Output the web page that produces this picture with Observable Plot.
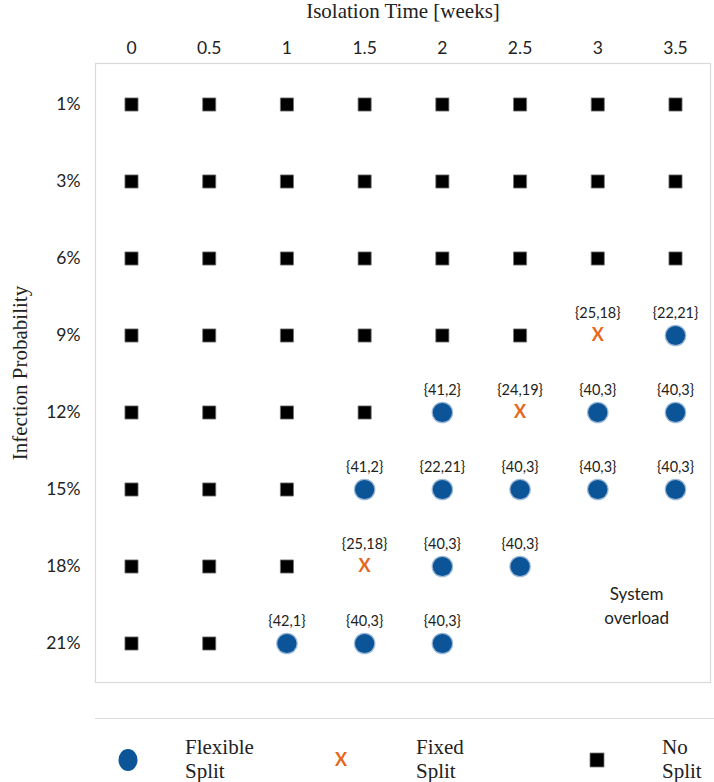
<!DOCTYPE html>
<html>
<head>
<meta charset="utf-8">
<script src="https://cdn.jsdelivr.net/npm/d3@7"></script>
<script src="https://cdn.jsdelivr.net/npm/@observablehq/plot@0.6"></script>
<style>
  html, body { margin: 0; padding: 0; background: #fff; }
  #wrap { position: relative; width: 714px; height: 782px; overflow: hidden; }
  #chart svg { display: block; }
  .leg { position: absolute; font-family: "Liberation Serif", serif; font-size: 21px; color: #222; line-height: 24px; }
  .legsym { position: absolute; }
</style>
</head>
<body>
<div id="wrap">
  <div id="chart"></div>
  <div style="position:absolute; left:95px; top:718px; width:619px; height:1px; background:#dcdcdc;"></div>
  <svg class="legsym" style="left:116px; top:747px;" width="24" height="26"><ellipse cx="12" cy="13" rx="9.5" ry="11" fill="#0b5497"/></svg>
  <div class="leg" style="left:185px; top:735px;">Flexible<br>Split</div>
  <div class="legsym" style="left:335px; top:748px; font-family:Lato, sans-serif; font-weight:bold; font-size:18px; color:#e8661a;">X</div>
  <div class="leg" style="left:416px; top:735px;">Fixed<br>Split</div>
  <svg class="legsym" style="left:589px; top:752px;" width="16" height="16"><rect x="1" y="1" width="14" height="14" fill="#000" stroke="#777" stroke-width="0.8"/></svg>
  <div class="leg" style="left:662px; top:735px;">No<br>Split</div>
</div>
<script>
// Axis categories
const isolationWeeks = [0, 0.5, 1, 1.5, 2, 2.5, 3, 3.5];
const infectionProb = ["1%", "3%", "6%", "9%", "12%", "15%", "18%", "21%"];

// "No Split": number of leading columns (from 0 weeks) per probability row
const noSplitCount = [8, 8, 8, 6, 4, 3, 3, 2];

// "Flexible Split" points
const flexibleWeeks = [3.5, 2, 3, 3.5, 1.5, 2, 2.5, 3, 3.5, 2, 2.5, 1, 1.5, 2];
const flexibleProb = ["9%", "12%", "12%", "12%", "15%", "15%", "15%", "15%", "15%", "18%", "18%", "21%", "21%", "21%"];
const flexibleSplit = ["{22,21}", "{41,2}", "{40,3}", "{40,3}", "{41,2}", "{22,21}", "{40,3}", "{40,3}", "{40,3}", "{40,3}", "{40,3}", "{42,1}", "{40,3}", "{40,3}"];

// "Fixed Split" points
const fixedWeeks = [3, 2.5, 1.5];
const fixedProb = ["9%", "12%", "18%"];
const fixedSplit = ["{25,18}", "{24,19}", "{25,18}"];

// Overload annotation
const overloadWeeks = [3.25];
const overloadProb = ["21%"];
const overloadNote = ["System\noverload"];

// Build tables
const noSplit = infectionProb.flatMap((p, i) =>
  isolationWeeks.slice(0, noSplitCount[i]).map(w => ({weeks: w, prob: p})));
const flexible = flexibleWeeks.map((w, i) => ({weeks: w, prob: flexibleProb[i], label: flexibleSplit[i]}));
const fixed = fixedWeeks.map((w, i) => ({weeks: w, prob: fixedProb[i], label: fixedSplit[i]}));
const overload = overloadWeeks.map((w, i) => ({weeks: w, prob: overloadProb[i], note: overloadNote[i]}));

const sans = "Lato, sans-serif";
const serif = "'Liberation Serif', serif";

const chart = Plot.plot({
  width: 714,
  height: 705,
  marginLeft: 95,
  marginTop: 63,
  marginRight: 4,
  marginBottom: 23,
  x: {type: "linear", domain: [0, 3.5], range: [131, 675]},
  y: {type: "point", domain: infectionProb, range: [102, 644], padding: 0},
  style: {fontFamily: sans, color: "#222", background: "#fff"},
  marks: [
    Plot.frame({stroke: "#d9d9d9", strokeWidth: 1.2}),
    Plot.axisX({
      anchor: "top", ticks: isolationWeeks, tickSize: 0, tickPadding: 10,
      fontSize: 17.5, fontFamily: sans, tickFormat: d => String(d), label: null
    }),
    Plot.axisX({
      anchor: "top", ticks: [], tickSize: 0, fontSize: 21, fontFamily: serif,
      label: "Isolation Time [weeks]", labelAnchor: "center", labelArrow: "none", labelOffset: 60
    }),
    Plot.axisY({
      anchor: "left", tickSize: 0, tickPadding: 15, fontSize: 17.5, fontFamily: sans, label: null
    }),
    Plot.axisY({
      anchor: "left", ticks: [], tickSize: 0, fontSize: 21, fontFamily: serif,
      label: "Infection Probability", labelAnchor: "center", labelArrow: "none", labelOffset: 83
    }),
    Plot.dot(noSplit, {x: "weeks", y: "prob", symbol: "square", r: 7.4, fill: "#000", stroke: "#777", strokeWidth: 0.8}),
    Plot.dot(flexible, {x: "weeks", y: "prob", r: 10.8, fill: "#4a80b8", fillOpacity: 0.55}),
    Plot.dot(flexible, {x: "weeks", y: "prob", r: 9.6, fill: "#0b5497"}),
    Plot.text(fixed, {x: "weeks", y: "prob", text: () => "X", fill: "#e8661a", fontWeight: "bold", fontSize: 18, fontFamily: sans}),
    Plot.text([...flexible, ...fixed], {x: "weeks", y: "prob", text: "label", dy: -22, fontSize: 14.5, fontFamily: sans, fill: "#222"}),
    Plot.text(overload, {x: "weeks", y: "prob", text: "note", dy: -39, fontSize: 17, fontFamily: sans, fill: "#222", lineHeight: 1.4})
  ]
});
document.getElementById("chart").appendChild(chart);
</script>
</body>
</html>
